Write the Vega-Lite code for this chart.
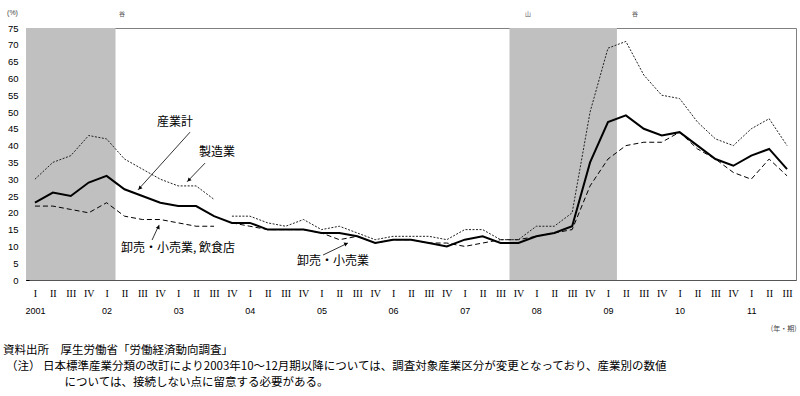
{
  "$schema": "https://vega.github.io/schema/vega-lite/v6.json",
  "width": 770,
  "height": 252,
  "autosize": {"type": "none"},
  "padding": {"left": 26, "top": 28, "right": 4, "bottom": 116},
  "background": "white",
  "config": {"view": {"stroke": "#808080", "strokeWidth": 1}, "font": "Liberation Sans"},
  "datasets": {
    "q": [
      {"t": 0, "total": 23, "mfg_a": 30, "rf": 22},
      {"t": 1, "total": 26, "mfg_a": 35, "rf": 22},
      {"t": 2, "total": 25, "mfg_a": 37, "rf": 21},
      {"t": 3, "total": 29, "mfg_a": 43, "rf": 20},
      {"t": 4, "total": 31, "mfg_a": 42, "rf": 23},
      {"t": 5, "total": 27, "mfg_a": 36, "rf": 19},
      {"t": 6, "total": 25, "mfg_a": 33, "rf": 18},
      {"t": 7, "total": 23, "mfg_a": 30, "rf": 18},
      {"t": 8, "total": 22, "mfg_a": 28, "rf": 17},
      {"t": 9, "total": 22, "mfg_a": 28, "rf": 16},
      {"t": 10, "total": 19, "mfg_a": 24, "rf": 16},
      {"t": 11, "total": 17, "mfg_b": 19, "retail": 17},
      {"t": 12, "total": 17, "mfg_b": 19, "retail": 16},
      {"t": 13, "total": 15, "mfg_b": 17, "retail": 15},
      {"t": 14, "total": 15, "mfg_b": 16, "retail": 15},
      {"t": 15, "total": 15, "mfg_b": 18, "retail": 15},
      {"t": 16, "total": 14, "mfg_b": 15, "retail": 14},
      {"t": 17, "total": 14, "mfg_b": 16, "retail": 12},
      {"t": 18, "total": 13, "mfg_b": 14, "retail": 13},
      {"t": 19, "total": 11, "mfg_b": 12, "retail": 11},
      {"t": 20, "total": 12, "mfg_b": 13, "retail": 12},
      {"t": 21, "total": 12, "mfg_b": 13, "retail": 12},
      {"t": 22, "total": 11, "mfg_b": 13, "retail": 11},
      {"t": 23, "total": 10, "mfg_b": 12, "retail": 11},
      {"t": 24, "total": 12, "mfg_b": 15, "retail": 10},
      {"t": 25, "total": 13, "mfg_b": 15, "retail": 11},
      {"t": 26, "total": 11, "mfg_b": 12, "retail": 12},
      {"t": 27, "total": 11, "mfg_b": 12, "retail": 12},
      {"t": 28, "total": 13, "mfg_b": 16, "retail": 13},
      {"t": 29, "total": 14, "mfg_b": 16, "retail": 14},
      {"t": 30, "total": 16, "mfg_b": 20, "retail": 15},
      {"t": 31, "total": 35, "mfg_b": 50, "retail": 28},
      {"t": 32, "total": 47, "mfg_b": 69, "retail": 36},
      {"t": 33, "total": 49, "mfg_b": 71, "retail": 40},
      {"t": 34, "total": 45, "mfg_b": 61, "retail": 41},
      {"t": 35, "total": 43, "mfg_b": 55, "retail": 41},
      {"t": 36, "total": 44, "mfg_b": 54, "retail": 44},
      {"t": 37, "total": 40, "mfg_b": 47, "retail": 39},
      {"t": 38, "total": 36, "mfg_b": 42, "retail": 36},
      {"t": 39, "total": 34, "mfg_b": 40, "retail": 32},
      {"t": 40, "total": 37, "mfg_b": 45, "retail": 30},
      {"t": 41, "total": 39, "mfg_b": 48, "retail": 36},
      {"t": 42, "total": 33, "mfg_b": 40, "retail": 31}
    ],
    "rec": [
      {"start": -0.5, "end": 4.5},
      {"start": 26.5, "end": 32.5}
    ],
    "one": [{}]
  },
  "layer": [
    {
      "data": {"name": "rec"},
      "mark": {"type": "rect", "color": "#c0c0c0"},
      "encoding": {
        "x": {"field": "start", "type": "quantitative",
          "scale": {"domain": [-0.5, 42.5], "nice": false, "zero": false},
          "axis": {"orient": "bottom", "values": [0,1,2,3,4,5,6,7,8,9,10,11,12,13,14,15,16,17,18,19,20,21,22,23,24,25,26,27,28,29,30,31,32,33,34,35,36,37,38,39,40,41,42],
            "labelExpr": "['I','II','III','IV'][datum.value % 4]",
            "ticks": false, "grid": false, "labelOverlap": false, "labelFlush": false,
            "labelFont": "Liberation Serif", "labelFontSize": 10, "labelColor": "#000",
            "labelPadding": 8, "domainColor": "#555", "title": null}},
        "x2": {"field": "end"},
        "y": {"datum": 0, "type": "quantitative",
          "scale": {"domain": [0, 75], "nice": false, "zero": true}},
        "y2": {"datum": 75}
      }
    },
    {
      "data": {"name": "q"},
      "mark": {"type": "line", "color": "#000", "strokeWidth": 1, "strokeDash": [5, 3]},
      "encoding": {"x": {"field": "t", "type": "quantitative", "axis": null}, "y": {"field": "rf", "type": "quantitative"}}
    },
    {
      "data": {"name": "q"},
      "mark": {"type": "line", "color": "#000", "strokeWidth": 1, "strokeDash": [5, 3]},
      "encoding": {"x": {"field": "t", "type": "quantitative", "axis": null}, "y": {"field": "retail", "type": "quantitative"}}
    },
    {
      "data": {"name": "q"},
      "mark": {"type": "line", "color": "#222", "strokeWidth": 1, "strokeDash": [2, 1.5]},
      "encoding": {"x": {"field": "t", "type": "quantitative", "axis": null}, "y": {"field": "mfg_a", "type": "quantitative"}}
    },
    {
      "data": {"name": "q"},
      "mark": {"type": "line", "color": "#222", "strokeWidth": 1, "strokeDash": [2, 1.5]},
      "encoding": {"x": {"field": "t", "type": "quantitative", "axis": null}, "y": {"field": "mfg_b", "type": "quantitative"}}
    },
    {
      "data": {"name": "q"},
      "mark": {"type": "line", "color": "#000", "strokeWidth": 2},
      "encoding": {
        "x": {"field": "t", "type": "quantitative",
          "axis": {"orient": "bottom", "values": [0,4,8,12,16,20,24,28,32,36,40],
            "labelExpr": "datum.value == 0 ? '2001' : pad(1 + datum.value / 4, 2, '0', 'left')",
            "ticks": false, "domain": false, "grid": false, "labelOverlap": false, "labelFlush": false,
            "labelFontSize": 9, "labelColor": "#000", "labelPadding": 26,
            "title": "(年・期)", "titleX": 770, "titleY": 48, "titleAlign": "right",
            "titleBaseline": "middle", "titleFontSize": 7, "titleFontWeight": "normal", "titleColor": "#444",
            "titleFont": "Noto Sans CJK JP"}},
        "y": {"field": "total", "type": "quantitative",
          "axis": {"values": [0,5,10,15,20,25,30,35,40,45,50,55,60,65,70,75], "tickCount": 16,
            "tickSize": -3, "labelPadding": 11, "grid": false, "labelOverlap": false, "labelFlush": false,
            "domainColor": "#000", "tickColor": "#000",
            "labelFontSize": 9.5, "labelColor": "#000",
            "title": "(%)", "titleAngle": 0, "titleX": -14, "titleY": -16,
            "titleFontSize": 7, "titleFontWeight": "normal", "titleColor": "#444",
            "titleAlign": "center", "titleBaseline": "middle"}}
      }
    },
    {
      "data": {"name": "one"},
      "mark": {"type": "rule", "color": "#000", "strokeWidth": 0.8},
      "encoding": {"x": {"datum": 8.66, "type": "quantitative", "axis": null}, "y": {"datum": 44.0, "type": "quantitative"}, "x2": {"datum": 5.75}, "y2": {"datum": 26.8}}
    },
    {
      "data": {"name": "one"},
      "mark": {"type": "point", "shape": "triangle-up", "filled": true, "color": "#000", "size": 18, "angle": 222, "opacity": 1},
      "encoding": {"x": {"datum": 5.85, "type": "quantitative", "axis": null}, "y": {"datum": 27.3, "type": "quantitative"}}
    },
    {
      "data": {"name": "one"},
      "mark": {"type": "rule", "color": "#000", "strokeWidth": 0.8},
      "encoding": {"x": {"datum": 9.5, "type": "quantitative", "axis": null}, "y": {"datum": 34.8, "type": "quantitative"}, "x2": {"datum": 8.49}, "y2": {"datum": 29.2}}
    },
    {
      "data": {"name": "one"},
      "mark": {"type": "point", "shape": "triangle-up", "filled": true, "color": "#000", "size": 18, "angle": 223, "opacity": 1},
      "encoding": {"x": {"datum": 8.59, "type": "quantitative", "axis": null}, "y": {"datum": 29.7, "type": "quantitative"}}
    },
    {
      "data": {"name": "one"},
      "mark": {"type": "rule", "color": "#000", "strokeWidth": 0.8},
      "encoding": {"x": {"datum": 6.54, "type": "quantitative", "axis": null}, "y": {"datum": 11.9, "type": "quantitative"}, "x2": {"datum": 6.93}, "y2": {"datum": 16.4}}
    },
    {
      "data": {"name": "one"},
      "mark": {"type": "point", "shape": "triangle-up", "filled": true, "color": "#000", "size": 18, "angle": 25, "opacity": 1},
      "encoding": {"x": {"datum": 6.9, "type": "quantitative", "axis": null}, "y": {"datum": 15.8, "type": "quantitative"}}
    },
    {
      "data": {"name": "one"},
      "mark": {"type": "rule", "color": "#000", "strokeWidth": 0.8},
      "encoding": {"x": {"datum": 16.09, "type": "quantitative", "axis": null}, "y": {"datum": 7.44, "type": "quantitative"}, "x2": {"datum": 17.48}, "y2": {"datum": 11.0}}
    },
    {
      "data": {"name": "one"},
      "mark": {"type": "point", "shape": "triangle-up", "filled": true, "color": "#000", "size": 18, "angle": 64, "opacity": 1},
      "encoding": {"x": {"datum": 17.38, "type": "quantitative", "axis": null}, "y": {"datum": 10.8, "type": "quantitative"}}
    },
    {
      "data": {"name": "one"},
      "mark": {"type": "text", "text": "産業計", "font": "Noto Sans CJK JP", "fontSize": 12, "color": "#000", "align": "center", "baseline": "middle"},
      "encoding": {"x": {"datum": 7.82, "type": "quantitative", "axis": null}, "y": {"datum": 47.0, "type": "quantitative"}}
    },
    {
      "data": {"name": "one"},
      "mark": {"type": "text", "text": "製造業", "font": "Noto Sans CJK JP", "fontSize": 12, "color": "#000", "align": "center", "baseline": "middle"},
      "encoding": {"x": {"datum": 10.17, "type": "quantitative", "axis": null}, "y": {"datum": 38.1, "type": "quantitative"}}
    },
    {
      "data": {"name": "one"},
      "mark": {"type": "text", "text": "卸売・小売業, 飲食店", "font": "Noto Sans CJK JP", "fontSize": 12, "color": "#000", "align": "center", "baseline": "middle"},
      "encoding": {"x": {"datum": 7.99, "type": "quantitative", "axis": null}, "y": {"datum": 9.5, "type": "quantitative"}}
    },
    {
      "data": {"name": "one"},
      "mark": {"type": "text", "text": "卸売・小売業", "font": "Noto Sans CJK JP", "fontSize": 12, "color": "#000", "align": "center", "baseline": "middle"},
      "encoding": {"x": {"datum": 16.64, "type": "quantitative", "axis": null}, "y": {"datum": 5.65, "type": "quantitative"}}
    },
    {
      "data": {"name": "one"},
      "mark": {"type": "text", "text": "谷", "font": "Noto Sans CJK JP", "fontSize": 6, "color": "#555", "align": "center", "baseline": "middle"},
      "encoding": {"x": {"datum": 4.86, "type": "quantitative", "axis": null}, "y": {"datum": 79.2, "type": "quantitative"}}
    },
    {
      "data": {"name": "one"},
      "mark": {"type": "text", "text": "山", "font": "Noto Sans CJK JP", "fontSize": 6, "color": "#555", "align": "center", "baseline": "middle"},
      "encoding": {"x": {"datum": 27.53, "type": "quantitative", "axis": null}, "y": {"datum": 79.2, "type": "quantitative"}}
    },
    {
      "data": {"name": "one"},
      "mark": {"type": "text", "text": "谷", "font": "Noto Sans CJK JP", "fontSize": 6, "color": "#555", "align": "center", "baseline": "middle"},
      "encoding": {"x": {"datum": 33.51, "type": "quantitative", "axis": null}, "y": {"datum": 79.2, "type": "quantitative"}}
    },
    {
      "data": {"name": "one"},
      "mark": {"type": "text", "text": "資料出所　厚生労働省「労働経済動向調査」", "font": "Noto Sans CJK JP", "fontSize": 11.5, "color": "#000", "align": "left", "baseline": "middle"},
      "encoding": {"x": {"datum": -1.79, "type": "quantitative", "axis": null}, "y": {"datum": -21.1, "type": "quantitative"}}
    },
    {
      "data": {"name": "one"},
      "mark": {"type": "text", "text": "（注） 日本標準産業分類の改訂により2003年10～12月期以降については、調査対象産業区分が変更となっており、産業別の数値", "font": "Noto Sans CJK JP", "fontSize": 11.5, "color": "#000", "align": "left", "baseline": "middle"},
      "encoding": {"x": {"datum": -1.62, "type": "quantitative", "axis": null}, "y": {"datum": -25.9, "type": "quantitative"}}
    },
    {
      "data": {"name": "one"},
      "mark": {"type": "text", "text": "については、接続しない点に留意する必要がある。", "font": "Noto Sans CJK JP", "fontSize": 11.5, "color": "#000", "align": "left", "baseline": "middle"},
      "encoding": {"x": {"datum": 1.65, "type": "quantitative", "axis": null}, "y": {"datum": -30.65, "type": "quantitative"}}
    }
  ],
  "resolve": {"axis": {"x": "independent"}}
}
